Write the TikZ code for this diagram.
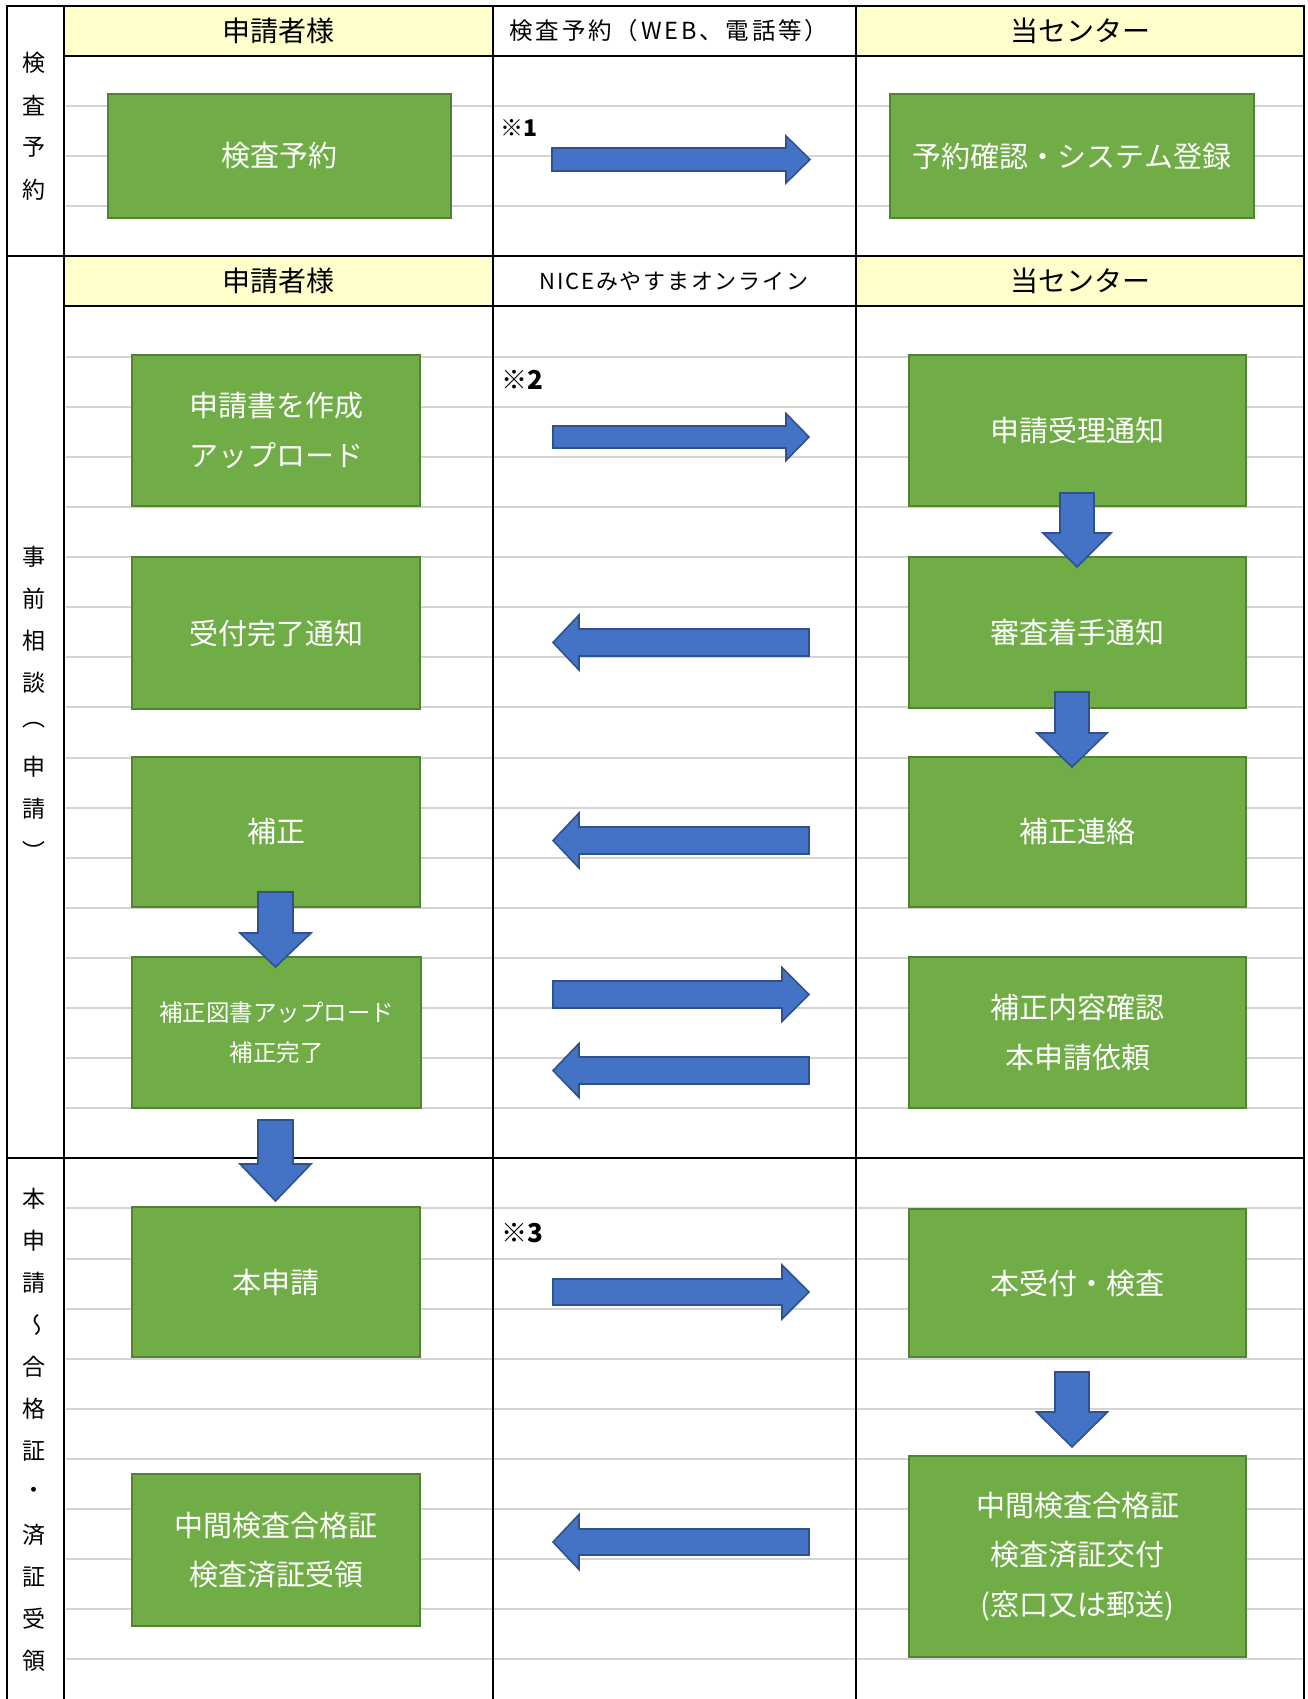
\documentclass[tikz,border=0pt]{standalone}
\usepackage{fontspec}
\setmainfont{Noto Sans CJK JP}
\usepackage{graphicx}
\definecolor{gfill}{HTML}{70AD47}
\definecolor{gline}{HTML}{548235}
\definecolor{bfill}{HTML}{4472C4}
\definecolor{bline}{HTML}{2F528F}
\definecolor{hdr}{HTML}{FFFFCC}
\definecolor{rowline}{HTML}{D4D4D4}
\tikzset{
 gbox/.style={draw=gline, fill=gfill, line width=2.5pt, text=white, font=\fontsize{29}{49.5}\selectfont, align=center, inner sep=0pt},
 barrow/.style={draw=bline, fill=bfill, line width=1.6pt, line join=miter},
 gridl/.style={line width=2.6pt, black},
 rowl/.style={line width=2pt, rowline},
 hdrtxt/.style={font=\fontsize{28}{30}\selectfont, inner sep=0pt},
 lab/.style={font=\fontsize{23}{24}\selectfont, inner sep=0pt},
 note/.style={font=\bfseries\fontsize{26}{28}\selectfont, inner sep=0pt, anchor=west},
}
\newcommand\myrarr[6]{% x1 x2 xb yc s h
 \draw[barrow] (#1,#4-#5) -- (#3,#4-#5) -- (#3,#4-#6) -- (#2,#4) -- (#3,#4+#6) -- (#3,#4+#5) -- (#1,#4+#5) -- cycle;}
\newcommand\mylarr[6]{% xtip xtail xb yc s h
 \draw[barrow] (#2,#4-#5) -- (#3,#4-#5) -- (#3,#4-#6) -- (#1,#4) -- (#3,#4+#6) -- (#3,#4+#5) -- (#2,#4+#5) -- cycle;}
\newcommand\mydarr[6]{% xc ytop ybase ytip s h
 \draw[barrow] (#1-#5,#2) -- (#1+#5,#2) -- (#1+#5,#3) -- (#1+#6,#3) -- (#1,#4) -- (#1-#6,#3) -- (#1-#5,#3) -- cycle;}
\begin{document}
\begin{tikzpicture}[x=1pt,y=-1pt]
\useasboundingbox (0,0) rectangle (1307,1699);
\fill[white] (0,0) rectangle (1307,1699);
% header fills
\fill[hdr] (64,6) rectangle (493,56);
\fill[hdr] (856,6) rectangle (1304,56);
\fill[hdr] (64,256) rectangle (493,306);
\fill[hdr] (856,256) rectangle (1304,306);
% row lines
\foreach \k in {2,3,4,7,8,...,22,24,25,...,33}
  \draw[rowl] (66,{6+50.1*\k}) -- (1304,{6+50.1*\k});
% grid
\draw[gridl] (7,1699) -- (7,6) -- (1304,6) -- (1304,1699);
\draw[gridl] (64,6) -- (64,1699);
\draw[gridl] (493,6) -- (493,1699);
\draw[gridl] (856,6) -- (856,1699);
\draw[gridl] (64,56) -- (1304,56);
\draw[gridl] (7,256) -- (1304,256);
\draw[gridl] (64,306) -- (1304,306);
\draw[gridl] (7,1158) -- (1304,1158);
% headers
\node[hdrtxt] (h1a) at (278.5,31) {申請者様};
\node[inner sep=0pt, font=\fontsize{23.5}{26}\selectfont\addfontfeature{LetterSpace=12}] (h1b) at (669,31) {検査予約（WEB、電話等）};
\node[hdrtxt] (h1c) at (1080,31) {当センター};
\node[hdrtxt] (h2a) at (278.5,281) {申請者様};
\node[inner sep=0pt, font=\fontsize{22}{24}\selectfont\addfontfeature{LetterSpace=8}] (h2b) at (674,281) {NICEみやすまオンライン};
\node[hdrtxt] (h2c) at (1080,281) {当センター};
% side labels
\foreach \c [count=\i from 0] in {検,査,予,約}
  \node[lab] (la\i) at (34.5,{63+42.3*\i}) {\c};
\foreach \c [count=\i from 0] in {事,前,相,談,︵,申,請,︶}
  \node[lab] (lb\i) at (34.5,{557+42*\i}) {\c};
\foreach \c [count=\i from 0] in {本,申,請,{\reflectbox{\rotatebox{90}{～}}},合,格,証,・,済,証,受,領}
  \node[lab] (lc\i) at (34.5,{1199+42*\i}) {\c};
% boxes
\node[gbox, minimum width=343pt, minimum height=124pt] (b1) at (279.5,156) {検査予約};
\node[gbox, minimum width=364pt, minimum height=124pt] (b2) at (1072,156) {予約確認・システム登録};
\node[gbox, minimum width=288pt, minimum height=151pt] (l1) at (276,430.5) {申請書を作成\\アップロード};
\node[gbox, minimum width=288pt, minimum height=152pt] (l2) at (276,633) {受付完了通知};
\node[gbox, minimum width=288pt, minimum height=150pt] (l3) at (276,832) {補正};
\node[gbox, minimum width=289pt, minimum height=151pt, font=\fontsize{23.5}{40}\selectfont] (l4) at (276.5,1032.5) {補正図書アップロード\\補正完了};
\node[gbox, minimum width=288pt, minimum height=150pt] (l5) at (276,1282) {本申請};
\node[gbox, minimum width=288pt, minimum height=152pt] (l6) at (276,1550) {中間検査合格証\\検査済証受領};
\node[gbox, minimum width=337pt, minimum height=151pt] (r1) at (1077.5,430.5) {申請受理通知};
\node[gbox, minimum width=337pt, minimum height=151pt] (r2) at (1077.5,632.5) {審査着手通知};
\node[gbox, minimum width=337pt, minimum height=150pt] (r3) at (1077.5,832) {補正連絡};
\node[gbox, minimum width=337pt, minimum height=151pt] (r4) at (1077.5,1032.5) {補正内容確認\\本申請依頼};
\node[gbox, minimum width=337pt, minimum height=148pt] (r5) at (1077.5,1283) {本受付・検査};
\node[gbox, minimum width=337pt, minimum height=201pt] (r6) at (1077.5,1556.5) {中間検査合格証\\検査済証交付\\(窓口又は郵送)};
% notes
\node[note, font=\bfseries\fontsize{23}{24}\selectfont] (n1) at (500,128) {※1};
\node[note] (n2) at (501,380) {※2};
\node[note] (n3) at (501,1233) {※3};
% horizontal arrows
\myrarr{552}{810}{786}{159.5}{11.5}{23.5}
\myrarr{553}{809}{786}{437}{11}{23.5}
\mylarr{553}{809}{579}{642.5}{13.5}{27.5}
\mylarr{553}{809}{579}{840.5}{13.5}{27.5}
\myrarr{553}{809}{782}{994.5}{13.5}{27}
\mylarr{553}{809}{579}{1070.5}{13.5}{27}
\myrarr{553}{809}{782}{1292}{13}{27}
\mylarr{553}{809}{579}{1542}{13}{27.5}
% down arrows
\mydarr{1077}{493}{533}{567}{17}{34}
\mydarr{1072}{692}{733}{767}{17}{35}
\mydarr{275.5}{892}{933}{967}{17.5}{35.5}
\mydarr{275.5}{1120}{1164}{1201}{17.5}{35.5}
\mydarr{1072}{1372}{1412}{1447}{17}{35.5}
\end{tikzpicture}
\end{document}
